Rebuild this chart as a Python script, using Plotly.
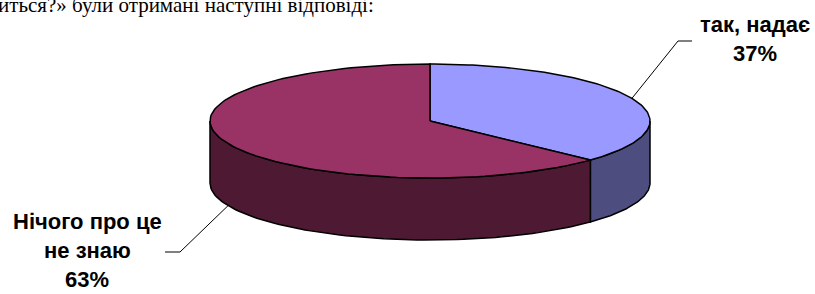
import numpy as np
import plotly.graph_objects as go

# ---- data ----
categories = ["так, надає", "Нічого про це не знаю"]
label_lines = [["так, надає"], ["Нічого про це", "не знаю"]]
values = [37, 63]
top_colors = ["#9999FF", "#993366"]
side_colors = ["#4D4D80", "#4D1933"]
caption = "иться?» були отримані наступні відповіді:"

# ---- layout geometry (pixels) ----
W, H = 815, 294
cx, cy, rx, ry, depth = 430, 121, 220, 57, 62

def pt(theta_deg, dy=0.0):
    t = np.radians(theta_deg)
    return cx + rx * np.sin(t), cy - ry * np.cos(t) + dy

fig = go.Figure()
total = sum(values)
starts = np.cumsum([0] + values[:-1]) / total * 360.0
ends = np.cumsum(values) / total * 360.0

# side faces (front half: 90..270 deg clockwise from top)
for a, b, col in zip(starts, ends, side_colors):
    lo, hi = max(a, 90), min(b, 270)
    if lo >= hi:
        continue
    th = np.linspace(lo, hi, 80)
    xt, yt = pt(th)
    xb, yb = pt(th[::-1], depth)
    xs = np.concatenate([xt, xb, xt[:1]])
    ys = np.concatenate([yt, yb, yt[:1]])
    fig.add_trace(go.Scatter(x=xs, y=ys, mode="lines", fill="toself",
                             fillcolor=col, line=dict(color="black", width=1.5),
                             hoverinfo="skip", showlegend=False))

# top faces
for a, b, col in zip(starts, ends, top_colors):
    th = np.linspace(a, b, 120)
    xt, yt = pt(th)
    xs = np.concatenate([[cx], xt, [cx]])
    ys = np.concatenate([[cy], yt, [cy]])
    fig.add_trace(go.Scatter(x=xs, y=ys, mode="lines", fill="toself",
                             fillcolor=col, line=dict(color="black", width=1.5),
                             hoverinfo="skip", showlegend=False))

# labels with leader lines
label_pos = [  # (text center x, first line center y, elbow x, elbow y, end x)
    (755, 24, 678, 41, 692),
    (87, 221, 180, 252, 165),
]
font = dict(family="Liberation Sans, Arial", size=22, color="black")
for i, (v, lines) in enumerate(zip(values, label_lines)):
    mid = (starts[i] + ends[i]) / 2
    dy = depth if 90 < mid < 270 else 0
    ax_, ay_ = pt(mid, dy)
    tx, ty, ex, ey, endx = label_pos[i]
    fig.add_trace(go.Scatter(x=[ax_, ex, endx], y=[ay_, ey, ey], mode="lines",
                             line=dict(color="black", width=1),
                             hoverinfo="skip", showlegend=False))
    all_lines = lines + [f"{v}%"]
    for k, s in enumerate(all_lines):
        fig.add_annotation(x=tx, y=ty + 29 * k, text=f"<b>{s}</b>", showarrow=False,
                           xanchor="center", yanchor="middle", font=font)

fig.add_annotation(xref="paper", yref="paper", x=0, y=1, xshift=-4, yshift=9,
                   text=caption, showarrow=False, xanchor="left", yanchor="top",
                   font=dict(family="Liberation Serif, Times New Roman", size=21, color="black"))

fig.update_layout(
    width=W, height=H, margin=dict(l=0, r=0, t=0, b=0),
    paper_bgcolor="white", plot_bgcolor="white",
    xaxis=dict(range=[0, W], visible=False, fixedrange=True),
    yaxis=dict(range=[H, 0], visible=False, fixedrange=True),
)
fig.write_html("out.html", config={"displayModeBar": False},
               post_script="document.body.style.margin='0';document.body.style.overflow='hidden';")
